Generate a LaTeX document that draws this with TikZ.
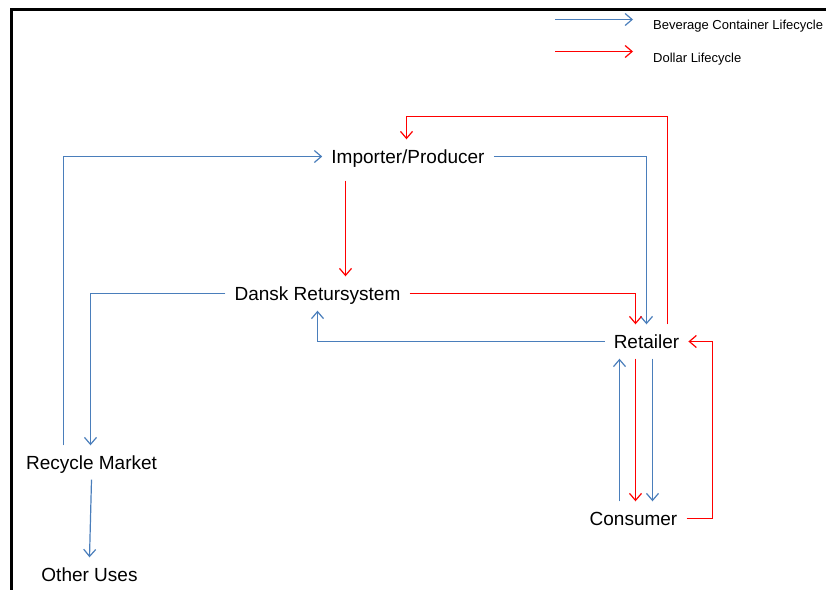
\documentclass[tikz,border=0pt]{standalone}
\usepackage{fontspec}
\setmainfont{Liberation Sans}
\usetikzlibrary{arrows.meta,calc,positioning}
\definecolor{bevblue}{RGB}{74,126,187}
\definecolor{dolred}{RGB}{255,0,0}
\tikzset{
	>={Straight Barb[length=7pt,width=12pt]},
	party/.style={font=\fontsize{19}{22}\selectfont, text height=14pt, text depth=0pt, inner xsep=9pt, inner ysep=10pt},
	legend text/.style={font=\fontsize{13}{15}\selectfont, anchor=base west, inner sep=0pt},
	bev/.style={->, draw=bevblue, line width=1.2pt},
	dollar/.style={->, draw=dolred, line width=1.2pt},
}

\begin{document}
\begin{tikzpicture}[x=1pt,y=-1pt]
	\useasboundingbox (0,0) rectangle (826,589);
	\draw[line width=3pt] (11.5,600) -- (11.5,9) -- (840,9);

	% legend
	\node[legend text] (legbev) at (653,29) {Beverage Container Lifecycle};
	\node[legend text] (legdol) at (653,62) {Dollar Lifecycle};
	\coordinate (bevA) at (555,19.5);
	\coordinate (bevB) at (633,19.5);
	\coordinate (dolA) at (555,51.5);
	\coordinate (dolB) at (633,51.5);
	\draw[bev] (bevA) -- (bevB);
	\draw[dollar] (dolA) -- (dolB);

	% parties
	\node[party] (imp) at (408,156.5) {Importer/Producer};
	\node[party] (dansk) at (317.5,293.5) {Dansk Retursystem};
	\node[party] (retail) at (646.5,341.5) {Retailer};
	\node[party] (cons) at (633.5,518.5) {Consumer};
	\node[party] (recyc) at (91.5,462.5) {Recycle Market};
	\node[party] (other) at (89.5,574.5) {Other Uses};

	% containers
	\draw[bev] ([xshift=-28pt]recyc.north) |- (imp.west);
	\draw[bev] (imp.east) -| (retail.north);
	\draw[bev] (retail.west) -| (dansk.south);
	\draw[bev] (dansk.west) -| ([xshift=-1pt]recyc.north);
	\draw[bev] (recyc.south) -- (other.north);
	\draw[bev] ([xshift=-27pt]retail.south |- cons.north) -- ([xshift=-27pt]retail.south);
	\draw[bev] ([xshift=6pt]retail.south) -- ([xshift=6pt]retail.south |- cons.north);

	% dollars
	\draw[dollar] ([xshift=21pt]retail.north) |- ([xshift=-1.5pt,yshift=23pt]imp.north) -- ([xshift=-1.5pt]imp.north);
	\draw[dollar] ([xshift=-62.5pt,yshift=-7pt]imp.south) -- ([xshift=-62.5pt]imp.south |- dansk.north);
	\draw[dollar] (dansk.east) -| ([xshift=-11pt]retail.north);
	\draw[dollar] ([xshift=-11pt]retail.south) -- ([xshift=-11pt]retail.south |- cons.north);
	\draw[dollar] (cons.east) -| ([xshift=24pt]retail.east) -- (retail.east);
\end{tikzpicture}
\end{document}
